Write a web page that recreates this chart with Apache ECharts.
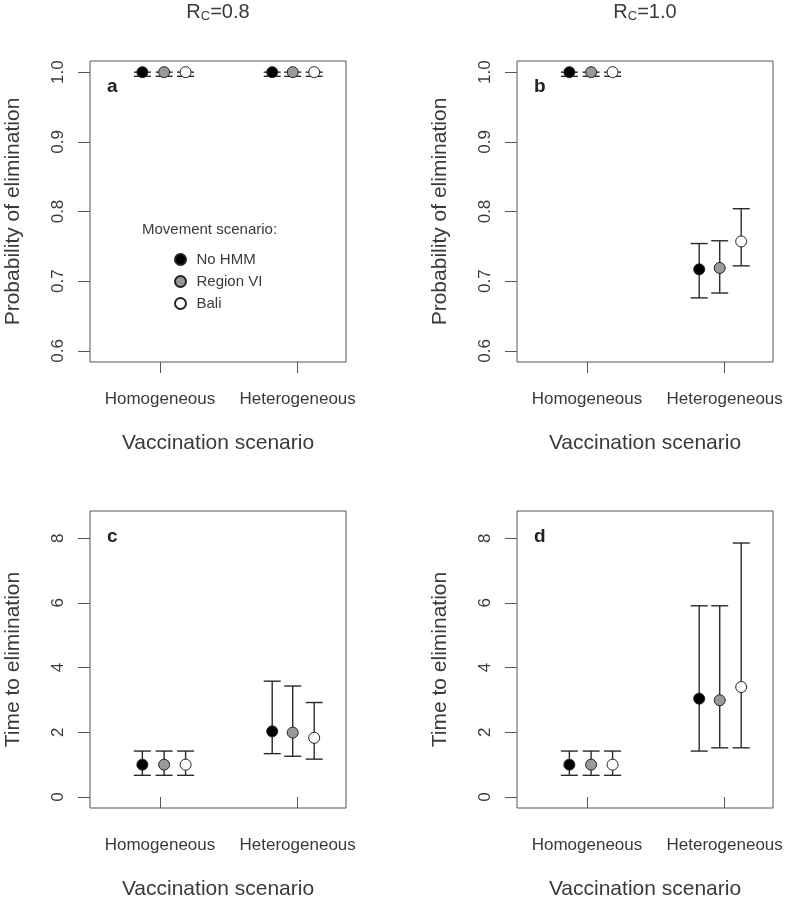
<!DOCTYPE html>
<html>
<head>
<meta charset="utf-8">
<script src="https://cdn.jsdelivr.net/npm/echarts@6/dist/echarts.min.js"></script>
<style>html,body{margin:0;padding:0;background:#fff;}#c{width:787px;height:901px;}</style>
</head>
<body>
<div id="c"></div>
<script>
// ---------- data ----------
const categories = ['Homogeneous', 'Heterogeneous'];
const movement = ['No HMM', 'Region VI', 'Bali'];
const yTicksProb = [0.6, 0.7, 0.8, 0.9, 1.0];
const yTicksTime = [0, 2, 4, 6, 8];
const panelLetters = ['a', 'b', 'c', 'd'];
const columnTitles = ['0.8', '1.0'];

// [series][category]
const probA_mean = [[1.0, 1.0], [1.0, 1.0], [1.0, 1.0]];
const probA_lo   = [[0.994, 0.994], [0.994, 0.994], [0.994, 0.994]];
const probA_hi   = [[1.0, 1.0], [1.0, 1.0], [1.0, 1.0]];

const probB_mean = [[1.0, 0.717], [1.0, 0.719], [1.0, 0.757]];
const probB_lo   = [[0.994, 0.676], [0.994, 0.683], [0.994, 0.722]];
const probB_hi   = [[1.0, 0.754], [1.0, 0.758], [1.0, 0.804]];

const timeC_mean = [[1.0, 2.03], [1.0, 1.99], [1.0, 1.83]];
const timeC_lo   = [[0.67, 1.34], [0.67, 1.26], [0.67, 1.17]];
const timeC_hi   = [[1.42, 3.58], [1.42, 3.43], [1.42, 2.92]];

const timeD_mean = [[1.0, 3.04], [1.0, 2.99], [1.0, 3.40]];
const timeD_lo   = [[0.67, 1.42], [0.67, 1.52], [0.67, 1.52]];
const timeD_hi   = [[1.42, 5.91], [1.42, 5.91], [1.42, 7.85]];

// ---------- layout / style ----------
const dodge = [[-0.128, -0.185], [0.03, -0.036], [0.186, 0.12]]; // x offsets per series per category
const fills = ['#000000', '#999999', '#ffffff'];
const txt = '#3a3a3a';
const lineC = '#555555';
const FONT = 'Liberation Sans, Arial, sans-serif';

const panels = [
  { mean: probA_mean, lo: probA_lo, hi: probA_hi, ticks: yTicksProb, min: 0.584, max: 1.016, yname: 'Probability of elimination', left: 90, top: 61, fmt: v => v.toFixed(1) },
  { mean: probB_mean, lo: probB_lo, hi: probB_hi, ticks: yTicksProb, min: 0.584, max: 1.016, yname: 'Probability of elimination', left: 517, top: 61, fmt: v => v.toFixed(1) },
  { mean: timeC_mean, lo: timeC_lo, hi: timeC_hi, ticks: yTicksTime, min: -0.34, max: 8.84, yname: 'Time to elimination', left: 90, top: 511, fmt: v => String(v) },
  { mean: timeD_mean, lo: timeD_lo, hi: timeD_hi, ticks: yTicksTime, min: -0.34, max: 8.84, yname: 'Time to elimination', left: 517, top: 511, fmt: v => String(v) }
];

const grid = [], xAxis = [], yAxis = [], series = [], title = [];

panels.forEach((p, i) => {
  grid.push({ left: p.left, top: p.top, width: 256, height: 301, show: true, borderColor: lineC, borderWidth: 1, backgroundColor: 'transparent' });
  xAxis.push({
    type: 'value', gridIndex: i, min: 0.4917, max: 2.351,
    name: 'Vaccination scenario', nameLocation: 'middle', nameGap: 71,
    nameTextStyle: { fontSize: 21, color: txt, fontFamily: FONT },
    axisLine: { show: false }, splitLine: { show: false },
    axisTick: { show: true, length: 11, inside: false, customValues: [1, 2], lineStyle: { color: lineC } },
    axisLabel: { customValues: [1, 2], margin: 29, fontSize: 17, color: txt, fontFamily: FONT,
      formatter: v => categories[Math.round(v) - 1] }
  });
  yAxis.push({
    type: 'value', gridIndex: i, min: p.min, max: p.max,
    name: p.yname, nameLocation: 'middle', nameGap: 66, nameRotate: 90,
    nameTextStyle: { fontSize: 21, color: txt, fontFamily: FONT },
    axisLine: { show: false }, splitLine: { show: false },
    axisTick: { show: true, length: 12, customValues: p.ticks, lineStyle: { color: lineC } },
    axisLabel: { customValues: p.ticks, rotate: 90, margin: 23, fontSize: 17, color: txt, fontFamily: FONT, formatter: p.fmt }
  });
  movement.forEach((name, s) => {
    const bars = categories.map((c, k) => [k + 1 + dodge[s][k], p.lo[s][k], p.hi[s][k]]);
    series.push({
      type: 'custom', name: 'err' + i + s, xAxisIndex: i, yAxisIndex: i, z: 2, silent: true,
      data: bars,
      renderItem: (params, api) => {
        const x = api.value(0);
        const a = api.coord([x, api.value(1)]);
        const b = api.coord([x, api.value(2)]);
        const w = 8.5;
        const st = { stroke: '#2a2a2a', lineWidth: 1.4 };
        return { type: 'group', children: [
          { type: 'line', shape: { x1: a[0], y1: a[1], x2: b[0], y2: b[1] }, style: st },
          { type: 'line', shape: { x1: a[0] - w, y1: a[1], x2: a[0] + w, y2: a[1] }, style: st },
          { type: 'line', shape: { x1: b[0] - w, y1: b[1], x2: b[0] + w, y2: b[1] }, style: st }
        ]};
      }
    });
  });
  movement.forEach((name, s) => {
    series.push({
      type: 'scatter', name: name, xAxisIndex: i, yAxisIndex: i, z: 5,
      symbol: 'circle', symbolSize: 11,
      itemStyle: { color: fills[s], borderColor: '#222', borderWidth: 1, opacity: 1 },
      data: categories.map((c, k) => [k + 1 + dodge[s][k], p.mean[s][k]])
    });
  });
  title.push({ text: panelLetters[i], left: p.left + 17, top: p.top + 16, padding: 0,
    textStyle: { fontSize: 19, fontWeight: 'bold', color: '#222', fontFamily: FONT } });
});

columnTitles.forEach((v, j) => {
  title.push({
    text: '{r|R}{s|C}{r|=' + v + '}', left: (j === 0 ? 218 : 645), top: 1, padding: 0, textAlign: 'center',
    textStyle: { fontWeight: 'normal', rich: {
      r: { fontSize: 20, fontWeight: 'normal', color: txt, fontFamily: FONT },
      s: { fontSize: 13, fontWeight: 'normal', color: txt, fontFamily: FONT, padding: [9, 0, 0, 0] }
    } }
  });
});
title.push({ text: 'Movement scenario:', left: 142, top: 222, padding: 0,
  textStyle: { fontSize: 15, fontWeight: 'normal', color: txt, fontFamily: FONT } });

const option = {
  backgroundColor: '#fff',
  animation: false,
  title: title,
  legend: {
    data: movement, orient: 'vertical', left: 169, top: 247, itemGap: 7,
    itemWidth: 22, itemHeight: 11, icon: 'circle',
    textStyle: { fontSize: 15, color: txt, fontFamily: FONT, lineHeight: 15 },
    selectedMode: false
  },
  grid, xAxis, yAxis, series
};
const chart = echarts.init(document.getElementById('c'), null, { renderer: 'canvas' });
chart.setOption(option);
</script>
</body>
</html>
